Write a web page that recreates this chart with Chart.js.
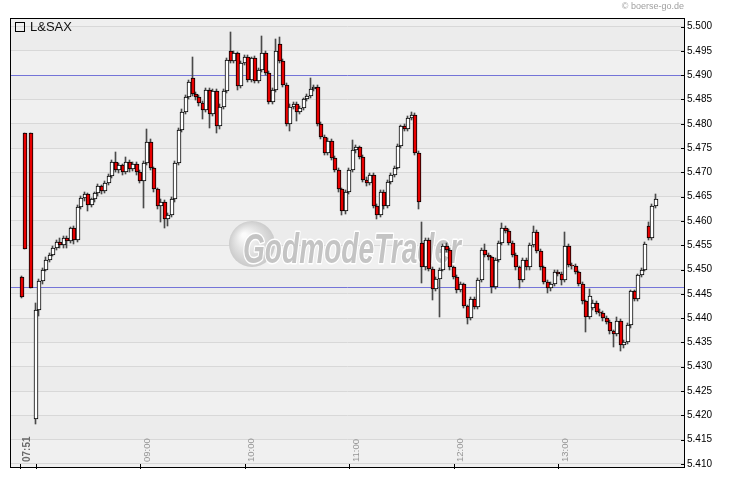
<!DOCTYPE html>
<html>
<head>
<meta charset="utf-8">
<title>L&amp;SAX</title>
<script src="https://cdn.jsdelivr.net/npm/chart.js@4.4.1/dist/chart.umd.min.js"></script>
<style>
  html, body { margin: 0; padding: 0; background: #fff; }
  #wrap { width: 730px; height: 481px; }
</style>
</head>
<body>
<div id="wrap"><canvas id="myChart" width="730" height="481"></canvas></div>
<script>
// candle times (pre-market, then 2-minute candles)
const times = [
  '07:52','07:54','07:57',
  '08:00','08:02','08:04','08:06','08:08','08:10','08:12','08:14','08:16','08:18',
  '08:20','08:22','08:24','08:26','08:28','08:30','08:32','08:34','08:36','08:38',
  '08:40','08:42','08:44','08:46','08:48','08:50','08:52','08:54','08:56','08:58',
  '09:00','09:02','09:04','09:06','09:08','09:10','09:12','09:14','09:16','09:18',
  '09:20','09:22','09:24','09:26','09:28','09:30','09:32','09:34','09:36','09:38',
  '09:40','09:42','09:44','09:46','09:48','09:50','09:52','09:54','09:56','09:58',
  '10:00','10:02','10:04','10:06','10:08','10:10','10:12','10:14','10:16','10:18',
  '10:20','10:22','10:24','10:26','10:28','10:30','10:32','10:34','10:36','10:38',
  '10:40','10:42','10:44','10:46','10:48','10:50','10:52','10:54','10:56','10:58',
  '11:00','11:02','11:04','11:06','11:08','11:10','11:12','11:14','11:16','11:18',
  '11:20','11:22','11:24','11:26','11:28','11:30','11:32','11:34','11:36','11:38',
  '11:40','11:42','11:44','11:46','11:48','11:50','11:52','11:54','11:56','11:58',
  '12:00','12:02','12:04','12:06','12:08','12:10','12:12','12:14','12:16','12:18',
  '12:20','12:22','12:24','12:26','12:28','12:30','12:32','12:34','12:36','12:38',
  '12:40','12:42','12:44','12:46','12:48','12:50','12:52','12:54','12:56','12:58',
  '13:00','13:02','13:04','13:06','13:08','13:10','13:12','13:14','13:16','13:18',
  '13:20','13:22','13:24','13:26','13:28','13:30','13:32','13:34','13:36','13:38',
  '13:40','13:42','13:44','13:46','13:48','13:50','13:52','13:54','13:56'
];

const opens = [
  5.4485, 5.4780, 5.4780,
  5.4193, 5.4416, 5.4476, 5.4500, 5.4520, 5.4530, 5.4545, 5.4557, 5.4550, 5.4565,
  5.4558, 5.4585, 5.4560, 5.4628, 5.4648, 5.4655, 5.4633, 5.4645, 5.4657, 5.4672,
  5.4662, 5.4678, 5.4692, 5.4722, 5.4705, 5.4715, 5.4700, 5.4722, 5.4706, 5.4718,
  5.4700, 5.4683, 5.4720, 5.4762, 5.4708, 5.4665, 5.4630, 5.4640, 5.4605, 5.4612,
  5.4645, 5.4720, 5.4788, 5.4825, 5.4855, 5.4895, 5.4862, 5.4855, 5.4842, 5.4828,
  5.4870, 5.4820, 5.4868, 5.4795, 5.4835, 5.4868, 5.4950, 5.4930, 5.4945, 5.4878,
  5.4925, 5.4938, 5.4890, 5.4935, 5.4888, 5.4910, 5.4945, 5.4905, 5.4845, 5.4870,
  5.4965, 5.4930, 5.4880, 5.4800, 5.4835, 5.4840, 5.4825, 5.4832, 5.4850, 5.4858,
  5.4872, 5.4876, 5.4800, 5.4773, 5.4740, 5.4765, 5.4730, 5.4705, 5.4665, 5.4620,
  5.4660, 5.4705, 5.4745, 5.4752, 5.4732, 5.4685, 5.4678, 5.4695, 5.4630, 5.4612,
  5.4660, 5.4630, 5.4680, 5.4695, 5.4710, 5.4755, 5.4795, 5.4790, 5.4812, 5.4818,
  5.4740, 5.4555, 5.4505, 5.4560, 5.4502, 5.4460, 5.4480, 5.4500, 5.4548, 5.4540,
  5.4505, 5.4485, 5.4458, 5.4470, 5.4425, 5.4400, 5.4440, 5.4422, 5.4478, 5.4540,
  5.4530, 5.4525, 5.4465, 5.4520, 5.4555, 5.4585, 5.4580, 5.4555, 5.4530, 5.4505,
  5.4478, 5.4520, 5.4505, 5.4550, 5.4578, 5.4538, 5.4505, 5.4475, 5.4462, 5.4470,
  5.4495, 5.4490, 5.4478, 5.4548, 5.4510, 5.4508, 5.4495, 5.4470, 5.4435, 5.4402,
  5.4420, 5.4432, 5.4412, 5.4410, 5.4400, 5.4393, 5.4373, 5.4368, 5.4395, 5.4345,
  5.4350, 5.4385, 5.4455, 5.4440, 5.4488, 5.4500, 5.4590, 5.4565, 5.4630
];

const highs = [
  5.4487, 5.4780, 5.4780,
  5.4432, 5.4480, 5.4503, 5.4525, 5.4534, 5.4548, 5.4560, 5.4565, 5.4570, 5.4568,
  5.4588, 5.4590, 5.4632, 5.4652, 5.4660, 5.4658, 5.4648, 5.4660, 5.4676, 5.4675,
  5.4682, 5.4696, 5.4726, 5.4741, 5.4720, 5.4718, 5.4732, 5.4726, 5.4722, 5.4722,
  5.4704, 5.4724, 5.4790, 5.4768, 5.4712, 5.4668, 5.4645, 5.4644, 5.4616, 5.4650,
  5.4724, 5.4792, 5.4830, 5.4860, 5.4890, 5.4938, 5.4866, 5.4860, 5.4846, 5.4874,
  5.4874, 5.4872, 5.4872, 5.4840, 5.4872, 5.4936, 5.4988, 5.4950, 5.4948, 5.4930,
  5.4942, 5.4942, 5.4938, 5.4940, 5.4914, 5.4980, 5.4950, 5.4908, 5.4874, 5.4975,
  5.4978, 5.4934, 5.4884, 5.4840, 5.4845, 5.4844, 5.4836, 5.4854, 5.4862, 5.4895,
  5.4880, 5.4880, 5.4804, 5.4776, 5.4770, 5.4768, 5.4734, 5.4708, 5.4668, 5.4664,
  5.4708, 5.4767, 5.4756, 5.4755, 5.4735, 5.4690, 5.4698, 5.4698, 5.4634, 5.4664,
  5.4664, 5.4684, 5.4698, 5.4714, 5.4758, 5.4798, 5.4800, 5.4815, 5.4825, 5.4822,
  5.4744, 5.4597, 5.4564, 5.4564, 5.4506, 5.4484, 5.4504, 5.4552, 5.4555, 5.4544,
  5.4508, 5.4488, 5.4474, 5.4473, 5.4428, 5.4444, 5.4444, 5.4482, 5.4544, 5.4552,
  5.4534, 5.4528, 5.4524, 5.4558, 5.4595, 5.4590, 5.4584, 5.4558, 5.4534, 5.4508,
  5.4524, 5.4524, 5.4554, 5.4590, 5.4582, 5.4542, 5.4508, 5.4478, 5.4474, 5.4500,
  5.4500, 5.4494, 5.4577, 5.4552, 5.4514, 5.4512, 5.4498, 5.4474, 5.4438, 5.4460,
  5.4438, 5.4436, 5.4418, 5.4414, 5.4404, 5.4396, 5.4376, 5.4402, 5.4398, 5.4356,
  5.4390, 5.4458, 5.4458, 5.4490, 5.4504, 5.4556, 5.4598, 5.4634, 5.4656
];

const lows = [
  5.4442, 5.4543, 5.4463,
  5.4182, 5.4405, 5.4470, 5.4496, 5.4516, 5.4527, 5.4540, 5.4545, 5.4545, 5.4545,
  5.4555, 5.4553, 5.4556, 5.4625, 5.4642, 5.4620, 5.4628, 5.4640, 5.4652, 5.4655,
  5.4658, 5.4674, 5.4688, 5.4700, 5.4698, 5.4695, 5.4696, 5.4700, 5.4702, 5.4694,
  5.4678, 5.4627, 5.4716, 5.4704, 5.4660, 5.4625, 5.4597, 5.4586, 5.4590, 5.4608,
  5.4640, 5.4716, 5.4784, 5.4820, 5.4850, 5.4858, 5.4848, 5.4836, 5.4810, 5.4824,
  5.4792, 5.4816, 5.4782, 5.4790, 5.4830, 5.4864, 5.4925, 5.4926, 5.4870, 5.4874,
  5.4920, 5.4885, 5.4886, 5.4884, 5.4884, 5.4906, 5.4900, 5.4840, 5.4840, 5.4866,
  5.4926, 5.4875, 5.4795, 5.4785, 5.4830, 5.4805, 5.4820, 5.4828, 5.4846, 5.4854,
  5.4868, 5.4796, 5.4768, 5.4735, 5.4736, 5.4726, 5.4700, 5.4660, 5.4612, 5.4615,
  5.4655, 5.4700, 5.4740, 5.4728, 5.4680, 5.4672, 5.4674, 5.4626, 5.4605, 5.4608,
  5.4625, 5.4626, 5.4676, 5.4690, 5.4706, 5.4750, 5.4786, 5.4786, 5.4808, 5.4736,
  5.4625, 5.4473, 5.4500, 5.4498, 5.4438, 5.4455, 5.4403, 5.4496, 5.4536, 5.4500,
  5.4480, 5.4452, 5.4454, 5.4420, 5.4387, 5.4396, 5.4418, 5.4418, 5.4474, 5.4526,
  5.4520, 5.4452, 5.4460, 5.4516, 5.4550, 5.4576, 5.4550, 5.4526, 5.4500, 5.4462,
  5.4474, 5.4500, 5.4500, 5.4546, 5.4534, 5.4500, 5.4470, 5.4452, 5.4456, 5.4466,
  5.4486, 5.4468, 5.4474, 5.4506, 5.4502, 5.4490, 5.4466, 5.4430, 5.4372, 5.4398,
  5.4416, 5.4408, 5.4404, 5.4395, 5.4388, 5.4368, 5.4340, 5.4364, 5.4333, 5.4338,
  5.4346, 5.4380, 5.4436, 5.4436, 5.4484, 5.4496, 5.4560, 5.4560, 5.4626
];

const closes = [
  5.4443, 5.4543, 5.4463,
  5.4416, 5.4476, 5.4500, 5.4520, 5.4530, 5.4545, 5.4557, 5.4550, 5.4565, 5.4558,
  5.4585, 5.4560, 5.4628, 5.4648, 5.4655, 5.4633, 5.4645, 5.4657, 5.4672, 5.4662,
  5.4678, 5.4692, 5.4722, 5.4705, 5.4715, 5.4700, 5.4722, 5.4706, 5.4718, 5.4700,
  5.4683, 5.4720, 5.4762, 5.4708, 5.4665, 5.4630, 5.4640, 5.4605, 5.4612, 5.4645,
  5.4720, 5.4788, 5.4825, 5.4855, 5.4885, 5.4862, 5.4855, 5.4842, 5.4828, 5.4870,
  5.4820, 5.4868, 5.4795, 5.4835, 5.4868, 5.4932, 5.4930, 5.4945, 5.4878, 5.4925,
  5.4938, 5.4890, 5.4935, 5.4888, 5.4910, 5.4945, 5.4905, 5.4845, 5.4870, 5.4950,
  5.4930, 5.4880, 5.4800, 5.4835, 5.4840, 5.4825, 5.4832, 5.4850, 5.4858, 5.4872,
  5.4876, 5.4800, 5.4773, 5.4740, 5.4765, 5.4730, 5.4705, 5.4665, 5.4620, 5.4660,
  5.4705, 5.4745, 5.4752, 5.4732, 5.4685, 5.4678, 5.4695, 5.4630, 5.4612, 5.4660,
  5.4630, 5.4680, 5.4695, 5.4710, 5.4755, 5.4795, 5.4790, 5.4812, 5.4818, 5.4740,
  5.4640, 5.4505, 5.4560, 5.4502, 5.4460, 5.4480, 5.4500, 5.4548, 5.4540, 5.4505,
  5.4485, 5.4458, 5.4470, 5.4425, 5.4400, 5.4440, 5.4422, 5.4478, 5.4540, 5.4530,
  5.4525, 5.4465, 5.4520, 5.4555, 5.4585, 5.4580, 5.4555, 5.4530, 5.4505, 5.4478,
  5.4520, 5.4505, 5.4550, 5.4578, 5.4538, 5.4505, 5.4475, 5.4462, 5.4470, 5.4495,
  5.4490, 5.4478, 5.4548, 5.4510, 5.4508, 5.4495, 5.4470, 5.4435, 5.4402, 5.4445,
  5.4432, 5.4412, 5.4410, 5.4400, 5.4393, 5.4373, 5.4368, 5.4395, 5.4345, 5.4350,
  5.4385, 5.4455, 5.4440, 5.4488, 5.4500, 5.4552, 5.4565, 5.4630, 5.4645
];

// axis ticks and reference lines
const yTicks = [5.410, 5.415, 5.420, 5.425, 5.430, 5.435, 5.440, 5.445, 5.450, 5.455,
                5.460, 5.465, 5.470, 5.475, 5.480, 5.485, 5.490, 5.495, 5.500];
const xTickLabels = ['07:51', '09:00', '10:00', '11:00', '12:00', '13:00'];
const xTickMarks = ['07:51', '08:00', '09:00', '10:00', '11:00', '12:00', '13:00'];
const refLevels = [5.4900, 5.4464];
const seriesName = 'L&SAX';

const toMin = t => { const [h, m] = t.split(':').map(Number); return h * 60 + m; };

const bodies = times.map((t, i) => ({ x: toMin(t), y: [opens[i], closes[i]] }));
const wicks = times.map((t, i) => ({ x: toMin(t), y: [lows[i], highs[i]] }));
const bodyColors = times.map((t, i) => closes[i] >= opens[i] ? '#ffffff' : '#e80000');

const decor = {
  id: 'decor',
  beforeDraw(chart) {
    const { ctx, chartArea: a, scales: { y } } = chart;
    ctx.save();
    ctx.fillStyle = '#ffffff';
    ctx.fillRect(0, 0, chart.width, chart.height);
    ctx.fillStyle = '#efefef';
    ctx.fillRect(a.left, a.top, a.width, a.height);
    for (let i = 0; i < yTicks.length - 1; i++) {
      const y0 = y.getPixelForValue(yTicks[i]);
      const y1 = y.getPixelForValue(yTicks[i + 1]);
      ctx.fillStyle = i % 2 ? '#ececec' : '#f0f0f0';
      ctx.fillRect(a.left, y1, a.width, y0 - y1);
    }
    ctx.restore();
  },
  beforeDatasetsDraw(chart) {
    const { ctx, chartArea: a, scales: { y } } = chart;
    // snap candle rectangles to whole pixels so the outlines stay crisp
    chart.data.datasets.forEach((ds, di) => {
      const thin = ds.barThickness === 1;
      chart.getDatasetMeta(di).data.forEach(el => {
        el.x = thin ? Math.round(el.x) - 0.5 : Math.round(el.x);
        el.y = Math.round(el.y);
        el.base = Math.round(el.base);
      });
    });
    ctx.save();
    // watermark
    const cx = 252, cy = 244;
    const g = ctx.createRadialGradient(cx - 8, cy - 9, 2, cx, cy, 24);
    g.addColorStop(0, '#fbfbfb');
    g.addColorStop(1, '#c9c9c9');
    ctx.fillStyle = g;
    ctx.beginPath();
    ctx.arc(cx, cy, 23, 0, Math.PI * 2);
    ctx.fill();
    ctx.font = 'italic bold 42px "Liberation Sans"';
    const w = ctx.measureText('GodmodeTrader').width;
    ctx.translate(243, 263);
    ctx.scale(218 / w, 1);
    ctx.lineJoin = 'round';
    ctx.lineWidth = 3;
    ctx.strokeStyle = '#ffffff';
    ctx.strokeText('GodmodeTrader', 0, 0);
    ctx.fillStyle = '#c4c4c4';
    ctx.fillText('GodmodeTrader', 0, 0);
    ctx.setTransform(1, 0, 0, 1, 0, 0);
    // reference lines
    ctx.strokeStyle = '#7474d8';
    ctx.lineWidth = 1;
    refLevels.forEach(v => {
      const py = Math.round(y.getPixelForValue(v)) + 0.5;
      ctx.beginPath();
      ctx.moveTo(a.left, py);
      ctx.lineTo(a.right, py);
      ctx.stroke();
    });
    ctx.restore();
  },
  afterDraw(chart) {
    const { ctx, chartArea: a, scales: { x, y } } = chart;
    ctx.save();
    ctx.strokeStyle = '#000';
    ctx.lineWidth = 1;
    ctx.strokeRect(a.left + 0.5, a.top + 0.5, a.width - 1, a.height);
    // inner y tick marks
    yTicks.forEach(v => {
      const py = Math.round(y.getPixelForValue(v)) + 0.5;
      ctx.beginPath();
      ctx.moveTo(a.right - 4, py);
      ctx.lineTo(a.right, py);
      ctx.stroke();
    });
    // x tick marks
    xTickMarks.forEach(t => {
      const px = Math.round(x.getPixelForValue(toMin(t))) + 0.5;
      ctx.beginPath();
      ctx.moveTo(px, a.bottom - 3);
      ctx.lineTo(px, a.bottom + 2);
      ctx.stroke();
    });
    // vertical time labels
    xTickLabels.forEach((t, i) => {
      const px = x.getPixelForValue(toMin(t)) + 7;
      ctx.save();
      ctx.translate(px, a.bottom - 5);
      ctx.rotate(-Math.PI / 2);
      ctx.textAlign = 'left';
      ctx.textBaseline = 'middle';
      ctx.font = i === 0 ? 'bold 10px "Liberation Sans"' : '9.5px "Liberation Sans"';
      ctx.fillStyle = i === 0 ? '#6a6a6a' : '#959595';
      ctx.fillText(t, 0, 0);
      ctx.restore();
    });
    // legend box + name
    ctx.strokeStyle = '#000';
    ctx.strokeRect(15.5, 22.5, 9, 9);
    ctx.fillStyle = '#111';
    ctx.font = '13px "Liberation Sans"';
    ctx.textAlign = 'left';
    ctx.textBaseline = 'middle';
    ctx.fillText(seriesName, 30, 27.5);
    // copyright
    ctx.fillStyle = '#a0a0a0';
    ctx.font = '9px "Liberation Sans"';
    ctx.textAlign = 'right';
    ctx.fillText('\u00a9 boerse-go.de', 684, 7);
    ctx.restore();
  }
};

const config = {
  type: 'bar',
  data: {
    datasets: [
      {
        label: 'body',
        data: bodies,
        backgroundColor: bodyColors,
        borderColor: '#000000',
        borderWidth: 1,
        borderSkipped: false,
        barThickness: 4,
        grouped: false,
        order: 0
      },
      {
        label: 'wick',
        data: wicks,
        backgroundColor: '#4a4a4a',
        borderWidth: 0,
        barThickness: 1,
        grouped: false,
        order: 1
      }
    ]
  },
  options: {
    responsive: false,
    animation: false,
    devicePixelRatio: 1,
    layout: { padding: { left: 10, top: 18, right: 0, bottom: 14 } },
    plugins: {
      legend: { display: false },
      tooltip: { enabled: false }
    },
    scales: {
      x: {
        type: 'linear',
        min: 465.2,
        max: 852.8,
        offset: false,
        display: false
      },
      y: {
        position: 'right',
        min: 5.40936,
        max: 5.50177,
        afterFit: s => { s.width = 45; },
        afterBuildTicks: s => { s.ticks = yTicks.map(v => ({ value: v })); },
        border: { display: false },
        grid: { color: '#d8d8d8', drawTicks: false },
        ticks: {
          padding: 2,
          color: '#000',
          font: { family: 'Liberation Sans', size: 10 },
          callback: v => v.toFixed(3)
        }
      }
    }
  },
  plugins: [decor]
};

new Chart(document.getElementById('myChart'), config);
</script>
</body>
</html>
